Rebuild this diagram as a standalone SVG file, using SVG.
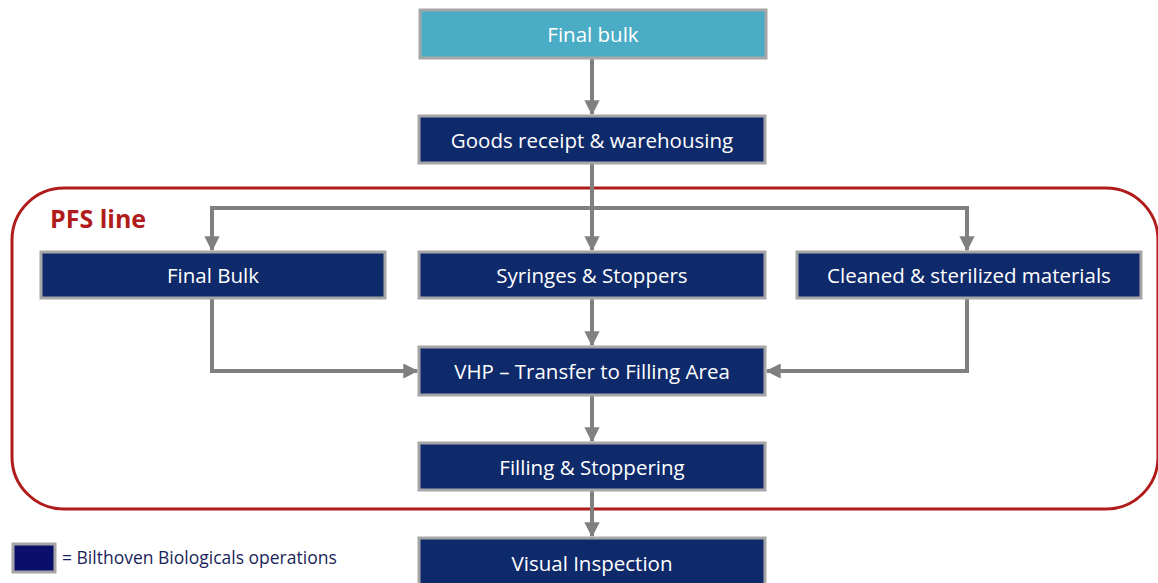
<svg xmlns="http://www.w3.org/2000/svg" width="1158" height="583" viewBox="0 0 1158 583">
<defs>
<style>
.box{fill:#0f2a6a;stroke:#a6a6a6;stroke-width:3}
.lt{fill:#4bacc6;stroke:#a6a6a6;stroke-width:3}
.t{fill:#ffffff;font-family:"Open Sans","Liberation Sans",sans-serif;font-size:20.5px;text-anchor:middle;dominant-baseline:central}
.c{fill:none;stroke:#808080;stroke-width:4}
</style>
<marker id="ah" viewBox="0 0 10 10" refX="9" refY="5" markerWidth="3.8" markerHeight="4.2" markerUnits="strokeWidth" orient="auto">
<path d="M0,0 L10,5 L0,10 z" fill="#808080"/>
</marker>
</defs>
<rect width="1158" height="583" fill="#ffffff"/>
<g id="pfs-line">
<rect x="12" y="188" width="1146" height="321" rx="52" ry="52" fill="none" stroke="#b01c1c" stroke-width="3"/>
<text x="50" y="228" font-family="Open Sans,Liberation Sans,sans-serif" font-size="25" font-weight="bold" fill="#b01c1c">PFS line</text>
</g>
<g id="connectors">
<line class="c" x1="592" y1="59" x2="592" y2="114" marker-end="url(#ah)"/>
<polyline class="c" points="592,164 592,208 212,208 212,250" marker-end="url(#ah)"/>
<line class="c" x1="592" y1="208" x2="592" y2="250" marker-end="url(#ah)"/>
<polyline class="c" points="592,208 967,208 967,250" marker-end="url(#ah)"/>
<polyline class="c" points="212,298 212,371 417,371" marker-end="url(#ah)"/>
<line class="c" x1="592" y1="298" x2="592" y2="345" marker-end="url(#ah)"/>
<polyline class="c" points="967,298 967,371 767,371" marker-end="url(#ah)"/>
<line class="c" x1="592" y1="395" x2="592" y2="441" marker-end="url(#ah)"/>
<line class="c" x1="592" y1="490" x2="592" y2="536" marker-end="url(#ah)"/>
</g>
<g id="final-bulk-top"><rect class="lt" x="420" y="10" width="346" height="48"/><text class="t" x="593" y="34">Final bulk</text></g>
<g id="goods-receipt"><rect class="box" x="419" y="116" width="346" height="47"/><text class="t" x="592" y="140">Goods receipt &amp; warehousing</text></g>
<g id="final-bulk"><rect class="box" x="41" y="252" width="344" height="46"/><text class="t" x="213" y="275">Final Bulk</text></g>
<g id="syringes"><rect class="box" x="419" y="252" width="346" height="46"/><text class="t" x="592" y="275">Syringes &amp; Stoppers</text></g>
<g id="cleaned"><rect class="box" x="797" y="252" width="344" height="46"/><text class="t" x="969" y="275">Cleaned &amp; sterilized materials</text></g>
<g id="vhp"><rect class="box" x="419" y="347" width="346" height="48"/><text class="t" x="592" y="371">VHP – Transfer to Filling Area</text></g>
<g id="filling"><rect class="box" x="419" y="443" width="346" height="47"/><text class="t" x="592" y="467">Filling &amp; Stoppering</text></g>
<g id="visual"><rect class="box" x="419" y="538" width="346" height="50"/><text class="t" x="592" y="563">Visual Inspection</text></g>
<g id="legend">
<rect x="13" y="544" width="42" height="28" fill="#0a0f6a" stroke="#a6a6a6" stroke-width="3"/>
<text x="62" y="564" font-family="Open Sans,Liberation Sans,sans-serif" font-size="17.5" fill="#1a1f5a">= Bilthoven Biologicals operations</text>
</g>
</svg>
